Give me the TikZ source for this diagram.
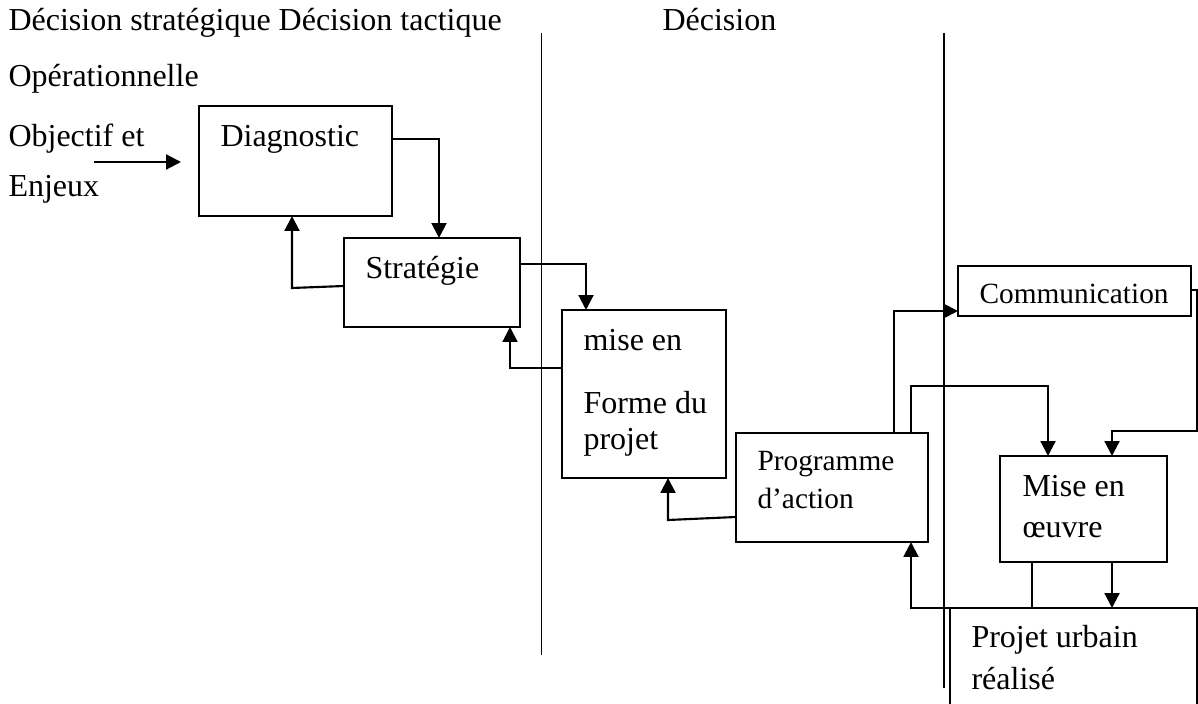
\documentclass[tikz,border=0pt]{standalone}
\usepackage{fontspec}
\setmainfont{Liberation Serif}
\usetikzlibrary{arrows.meta}
\begin{document}
\begin{tikzpicture}[x=0.375pt, y=-0.375pt,
  box/.style={draw, line width=0.55pt, inner sep=0pt, outer sep=0pt},
  conn/.style={line width=0.8pt},
  arr/.style={conn, -{Triangle[length=5.6pt,width=5.6pt]}},
  txt/.style={anchor=base west, inner sep=0pt, font=\fontsize{12}{14}\selectfont},
  stxt/.style={anchor=base west, inner sep=0pt, font=\fontsize{11}{13}\selectfont},
  divider/.style={line width=0.5pt}]
\useasboundingbox (0,0) rectangle (1198,704);
\clip (0,0) rectangle (1198,704);

% column headings and left-hand labels
\node[txt] (hdA) at (8,31) {Décision stratégique Décision tactique};
\node[txt] (hdB) at (662,31) {Décision};
\node[txt] (hdC) at (8,87) {Opérationnelle};
\node[txt] (obj) at (8,147) {Objectif et};
\node[txt] (enj) at (8,197) {Enjeux};

% column dividers
\draw[divider] (541.7,33) -- (541.7,655);
\draw[divider] (944,33) -- (944,688);

% boxes
\node[box, minimum width=72.4pt, minimum height=41.25pt] (diag) at (295.5,161) {};
\node[box, minimum width=66pt, minimum height=33.4pt] (strat) at (432,282.5) {};
\node[box, minimum width=61.5pt, minimum height=63pt] (mise) at (644,394) {};
\node[box, minimum width=72pt, minimum height=40.9pt] (prog) at (832,487.5) {};
\node[box, minimum width=87.4pt, minimum height=18.75pt] (comm) at (1074.5,291) {};
\node[box, minimum width=62.6pt, minimum height=39.75pt] (oeuvre) at (1083.5,509) {};
\node[box, minimum width=92.6pt, minimum height=49.5pt] (projet) at (1073.5,674) {};

% box texts
\node[txt] (diagT) at (220,147) {Diagnostic};
\node[txt] (stratT) at (365,279) {Stratégie};
\node[txt] (miseT1) at (583,351) {mise en};
\node[txt] (miseT2) at (583,414) {Forme du};
\node[txt] (miseT3) at (583,450) {projet};
\node[stxt] (progT1) at (757,471) {Programme};
\node[stxt] (progT2) at (757,509) {d’action};
\node[stxt] (commT) at (979,304) {Communication};
\node[txt] (oeuvreT1) at (1022,497) {Mise en};
\node[txt] (oeuvreT2) at (1022,538) {œuvre};
\node[txt] (projetT1) at (971,648) {Projet urbain};
\node[txt] (projetT2) at (971,689) {réalisé};

% incoming arrow
\coordinate (inS) at (94,162);
\coordinate (inE) at (181,162);
\draw[arr] (inS) -- (inE);

% connectors
\draw[arr] (diag.east |- 0,139) -| (strat.north -| 439,0);
\draw[arr] (strat.west |- 0,286) -- (292,288) -- (diag.south -| 292,0);
\draw[arr] (strat.east |- 0,264) -| (mise.north -| 586,0);
\draw[arr] (mise.west |- 0,368) -| (strat.south -| 510,0);
\draw[arr] (prog.west |- 0,517) -- (668,520) -- (mise.south -| 668,0);
\draw[arr] (prog.north -| 894,0) |- (comm.west |- 0,311);
\draw[arr] (prog.north -| 911,0) |- (1048,386) -- (oeuvre.north -| 1048,0);
\draw[arr] (comm.east |- 0,290) -- (1197,290) -- (1197,431) -- (1112,431) -- (oeuvre.north -| 1112,0);
\draw[arr] (oeuvre.south -| 1112,0) -- (projet.north -| 1112,0);
\draw[conn] (oeuvre.south -| 1032,0) -- (projet.north -| 1032,0);
\draw[arr] (projet.north west) -| (prog.south -| 911,0);
\end{tikzpicture}
\end{document}
